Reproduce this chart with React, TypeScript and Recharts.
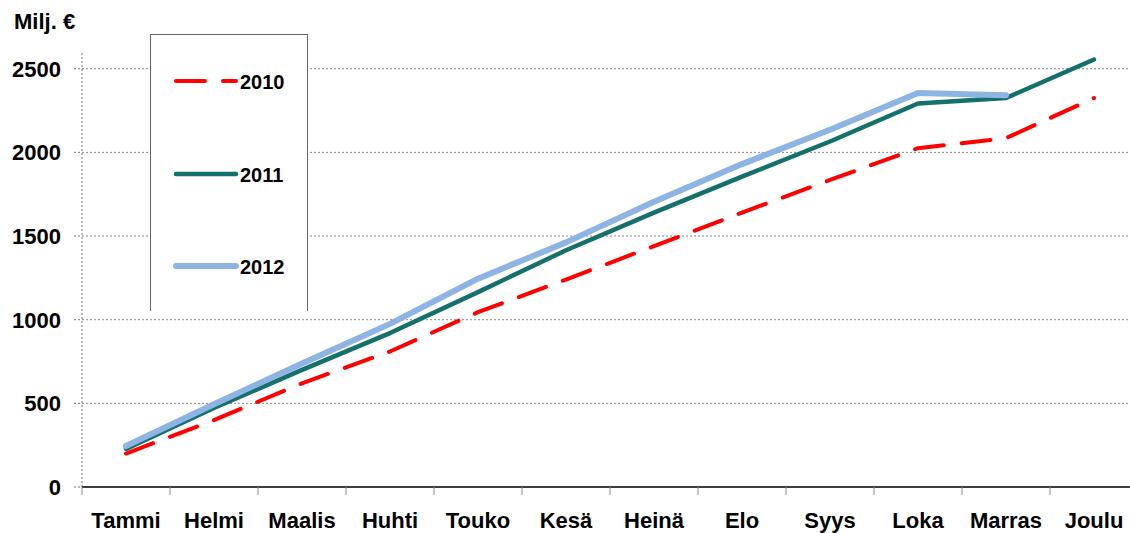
import { LineChart, Line, XAxis, YAxis, ReferenceLine } from 'recharts'

const months = ['Tammi', 'Helmi', 'Maalis', 'Huhti', 'Touko', 'Kesä', 'Heinä', 'Elo', 'Syys', 'Loka', 'Marras', 'Joulu']
const s2010 = [200, 400, 620, 810, 1045, 1240, 1440, 1640, 1835, 2025, 2085, 2325]
const s2011 = [228, 472, 700, 920, 1165, 1415, 1640, 1855, 2065, 2292, 2325, 2555]
const s2012: (number | null)[] = [245, 495, 738, 975, 1245, 1462, 1705, 1930, 2135, 2355, 2342, null]
const yTicks = [0, 500, 1000, 1500, 2000, 2500]
const Y_MAX = 2600

const FONT = '"Liberation Sans", Arial, sans-serif'
const RED = '#ff0000'
const TEAL = '#14706a'
const BLUE = '#8db4e2'

// x = kuukauden keskikohta numeerisella akselilla, jotta jakoviivat osuvat rajoille
const data = months.map((m, i) => ({
  x: i + 0.5,
  m,
  y2010: s2010[i],
  y2011: s2011[i],
  y2012: s2012[i],
}))
const xTicks = Array.from({ length: months.length * 2 + 1 }, (_, i) => i / 2)

function MonthTick({ x, y, payload }: any) {
  const v = payload.value as number
  if (Number.isInteger(v)) {
    return <line x1={x} x2={x} y1={y} y2={y + 8} stroke="#888" strokeWidth={1} />
  }
  return (
    <text x={x} y={y + 41} textAnchor="middle" fontSize={22} fontWeight="bold" fill="#000" fontFamily={FONT}>
      {months[Math.floor(v)]}
    </text>
  )
}

const legendItems = [
  { name: '2010', color: RED, width: 4, dash: '29 18', top: 46 },
  { name: '2011', color: TEAL, width: 4.5, dash: undefined, top: 139 },
  { name: '2012', color: BLUE, width: 6, dash: undefined, top: 231 },
]

export default function App() {
  return (
    <div style={{ position: 'absolute', left: 0, top: 0, width: 1130, height: 533, overflow: 'hidden', background: '#fff', fontFamily: FONT }}>
      <LineChart width={1138} height={533} data={data} margin={{ top: 52, right: 0, bottom: 0, left: 0 }}>
        {yTicks.slice(1).map((t) => (
          <ReferenceLine key={t} y={t} stroke="#888" strokeDasharray="2 2" />
        ))}
        <ReferenceLine x={0} stroke="#777" strokeDasharray="2 2" />
        <XAxis
          type="number"
          dataKey="x"
          domain={[0, 12]}
          ticks={xTicks}
          interval={0}
          tick={<MonthTick />}
          tickLine={false}
          tickSize={0}
          tickMargin={0}
          height={46}
          axisLine={{ stroke: '#000', strokeWidth: 1.5 }}
        />
        <YAxis
          domain={[0, Y_MAX]}
          ticks={yTicks}
          width={82}
          tickSize={8}
          tickMargin={13}
          axisLine={false}
          tickLine={{ stroke: '#777', strokeDasharray: '2 2' }}
          tick={{ fontSize: 22, fontWeight: 'bold', fill: '#000', fontFamily: FONT }}
        />
        <Line type="linear" dataKey="y2010" stroke={RED} strokeWidth={4} strokeDasharray="29 18" strokeLinecap="round" dot={false} isAnimationActive={false} />
        <Line type="linear" dataKey="y2011" stroke={TEAL} strokeWidth={4.5} strokeLinecap="round" strokeLinejoin="round" dot={false} isAnimationActive={false} />
        <Line type="linear" dataKey="y2012" stroke={BLUE} strokeWidth={6} strokeLinecap="round" strokeLinejoin="round" dot={false} isAnimationActive={false} />
      </LineChart>

      {/* piirtoalueen yläreunaan ei kuulu vaakaviivaa */}
      <div style={{ position: 'absolute', left: 84, top: 49, width: 1046, height: 6, background: '#fff', zIndex: 5 }} />

      <div style={{ position: 'absolute', left: 14, top: 11, fontSize: 22, lineHeight: '22px', fontWeight: 'bold', zIndex: 6 }}>Milj. €</div>

      <div style={{ position: 'absolute', left: 150, top: 34, width: 156, height: 276, borderTop: '1px solid #666', borderLeft: '1px solid #666', borderRight: '1px solid #666', background: '#fff', zIndex: 6 }}>
        {legendItems.map((it) => (
          <div key={it.name}>
            <svg width={66} height={10} style={{ position: 'absolute', left: 22, top: it.top - 5 }}>
              <line x1={3} x2={63} y1={5} y2={5} stroke={it.color} strokeWidth={it.width} strokeDasharray={it.dash} strokeLinecap="round" />
            </svg>
            <div style={{ position: 'absolute', left: 89, top: it.top - 9, fontSize: 20, lineHeight: '20px', fontWeight: 'bold' }}>{it.name}</div>
          </div>
        ))}
      </div>
    </div>
  )
}
